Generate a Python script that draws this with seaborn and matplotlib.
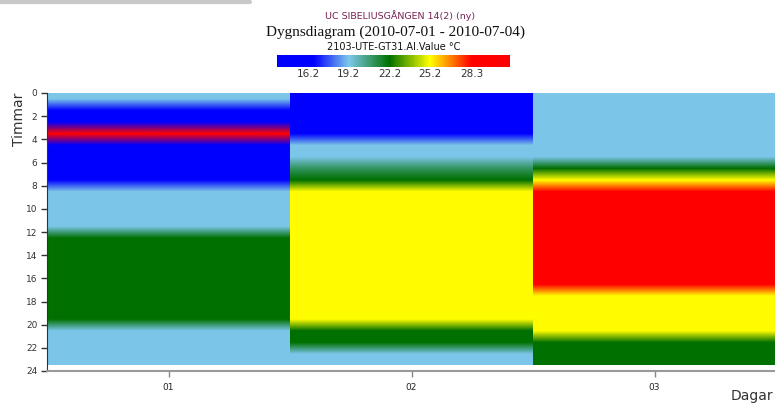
import numpy as np
import matplotlib
matplotlib.use("Agg")
import matplotlib.pyplot as plt
from matplotlib.colors import LinearSegmentedColormap, Normalize
from matplotlib.patches import Rectangle
import seaborn as sns

# hourly temperature per day (°C), rows = hour 0..23
days = ["01", "02", "03"]
hours = list(range(24))
day01 = [19.2, 16.2, 16.2, 28.3, 16.2, 16.2, 16.2, 16.2,
         19.2, 19.2, 19.2, 19.2, 22.2, 22.2, 22.2, 22.2,
         22.2, 22.2, 22.2, 22.2, 19.2, 19.2, 19.2, 19.2]
day02 = [16.2, 16.2, 16.2, 16.2, 19.2, 19.2, 21.0, 22.2,
         25.2, 25.2, 25.2, 25.2, 25.2, 25.2, 25.2, 25.2,
         25.2, 25.2, 25.2, 25.2, 22.2, 22.2, 19.2, 19.2]
day03 = [19.2, 19.2, 19.2, 19.2, 19.2, 19.2, 22.2, 25.2,
         28.3, 28.3, 28.3, 28.3, 28.3, 28.3, 28.3, 28.3,
         28.3, 25.2, 25.2, 25.2, 25.2, 22.2, 22.2, 22.2]
cbar_ticks = [16.2, 19.2, 22.2, 25.2, 28.3]
vmin, vmax = 13.9, 31.1

sns.set_style("ticks")
plt.rcParams['font.family'] = ['DejaVu Sans']

# colour scale: blue -> light blue -> green -> yellow -> red
nodes = [13.9, 16.6, 19.2, 22.2, 25.2, 28.3, 31.1]
cols = ["#0000ff", "#0000ff", "#7cc8e8", "#007000", "#ffff00", "#ff0000", "#ff0000"]
cmap = LinearSegmentedColormap.from_list(
    "temp", [((n - vmin) / (vmax - vmin), c) for n, c in zip(nodes, cols)])
norm = Normalize(vmin=vmin, vmax=vmax)

fig = plt.figure(figsize=(7.75, 4.08), dpi=100)
ax = fig.add_axes([47 / 775, 37 / 408, 729 / 775, 278 / 408])

for i, vals in enumerate([day01, day02, day03]):
    im = ax.imshow(np.array(vals).reshape(-1, 1), cmap=cmap, norm=norm,
                   aspect="auto", interpolation="bilinear",
                   interpolation_stage="rgba",
                   extent=(i - 0.5, i + 0.5, 24, 0))
    im.set_clip_path(Rectangle((i - 0.5, 0), 1, 23.45, transform=ax.transData))

ax.set_xlim(-0.5, 2.5)
ax.set_ylim(24, 0)
ax.set_xticks(range(len(days)))
ax.set_xticklabels(days, fontsize=6.5)
ax.set_yticks(range(0, 25, 2))
ax.tick_params(axis="y", labelsize=6.5, length=4, width=1, colors="#333333", pad=3)
ax.tick_params(axis="x", length=4, width=1, color="#888888", labelcolor="#222222", pad=5)
for s in ["top", "right"]:
    ax.spines[s].set_visible(False)
ax.spines["left"].set_color("#333333")
ax.spines["bottom"].set_color("#999999")
ax.spines["bottom"].set_linewidth(1.5)

fig.text(12 / 775, 1 - 93 / 408, "Timmar", rotation=90, fontsize=10,
         ha="left", va="top", color="#333333")
fig.text(1 - 2 / 775, 5 / 408, "Dagar", fontsize=10, ha="right",
         va="bottom", color="#333333")

# titles
fig.text(400 / 775, 1 - 16 / 408, "UC SIBELIUSGÅNGEN 14(2) (ny)", fontsize=6.8,
         ha="center", va="center", color="#772255")
fig.text(395 / 775, 1 - 32 / 408, "Dygnsdiagram (2010-07-01 - 2010-07-04)",
         fontsize=11, ha="center", va="center", color="#111111",
         family="Liberation Serif")
fig.text(394 / 775, 1 - 47 / 408, "2103-UTE-GT31.AI.Value °C", fontsize=7,
         ha="center", va="center", color="#111111")

# colour bar
cax = fig.add_axes([277 / 775, 1 - 66.5 / 408, 233 / 775, 12 / 408])
cb = fig.colorbar(plt.cm.ScalarMappable(norm=norm, cmap=cmap), cax=cax,
                  orientation="horizontal")
cb.set_ticks(cbar_ticks)
cb.set_ticklabels([f"{t:.1f}" for t in cbar_ticks])
cb.outline.set_visible(False)
cax.tick_params(length=0, labelsize=7.5, pad=2, labelcolor="#333333")

# grey frame line at top-left (window edge)
fig.add_artist(plt.Line2D([0, 250 / 775], [1 - 2 / 408, 1 - 2 / 408],
                          color="#c8c8c8", lw=3, transform=fig.transFigure))

fig.savefig("out.png", dpi=100)
